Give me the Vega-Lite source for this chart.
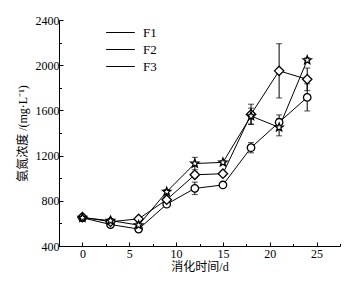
{
  "$schema": "https://vega.github.io/schema/vega-lite/v6.json",
  "width": 281,
  "height": 226,
  "autosize": {"type": "none"},
  "padding": {"left": 59, "top": 20, "right": 21, "bottom": 41},
  "background": "white",
  "config": {
    "view": {"stroke": null},
    "font": "Liberation Serif",
    "axis": {"grid": false, "domainColor": "black", "tickColor": "black", "labelColor": "black", "titleColor": "black", "domainWidth": 1, "tickWidth": 1}
  },
  "data": {
    "values": [
      {"day": 0, "series": "F1", "v": 650, "err": 15},
      {"day": 3, "series": "F1", "v": 590, "err": 20},
      {"day": 6, "series": "F1", "v": 550, "err": 20},
      {"day": 9, "series": "F1", "v": 770, "err": 20},
      {"day": 12, "series": "F1", "v": 910, "err": 55},
      {"day": 15, "series": "F1", "v": 940, "err": 15},
      {"day": 18, "series": "F1", "v": 1270, "err": 45},
      {"day": 21, "series": "F1", "v": 1495, "err": 65},
      {"day": 24, "series": "F1", "v": 1715, "err": 120},
      {"day": 0, "series": "F2", "v": 655, "err": 15},
      {"day": 3, "series": "F2", "v": 615, "err": 15},
      {"day": 6, "series": "F2", "v": 640, "err": 15},
      {"day": 9, "series": "F2", "v": 810, "err": 20},
      {"day": 12, "series": "F2", "v": 1030, "err": 25},
      {"day": 15, "series": "F2", "v": 1040, "err": 20},
      {"day": 18, "series": "F2", "v": 1565, "err": 90},
      {"day": 21, "series": "F2", "v": 1950, "err": 240},
      {"day": 24, "series": "F2", "v": 1875, "err": 100},
      {"day": 0, "series": "F3", "v": 650, "err": 15},
      {"day": 3, "series": "F3", "v": 625, "err": 15},
      {"day": 6, "series": "F3", "v": 585, "err": 20},
      {"day": 9, "series": "F3", "v": 880, "err": 20},
      {"day": 12, "series": "F3", "v": 1130, "err": 55},
      {"day": 15, "series": "F3", "v": 1140, "err": 15},
      {"day": 18, "series": "F3", "v": 1550, "err": 70},
      {"day": 21, "series": "F3", "v": 1450, "err": 75},
      {"day": 24, "series": "F3", "v": 2045, "err": 20}
    ]
  },
  "layer": [
    {
      "mark": {"type": "errorbar", "color": "black", "ticks": {"size": 6, "thickness": 1}, "rule": {"strokeWidth": 1}},
      "encoding": {
        "x": {"field": "day", "type": "quantitative", "scale": {"domain": [-2.5, 27.5], "nice": false, "zero": false}, "axis": null},
        "y": {"field": "v", "type": "quantitative", "scale": {"domain": [400, 2400], "nice": false, "zero": false}, "axis": null},
        "yError": {"field": "err"},
        "detail": {"field": "series"}
      }
    },
    {
      "mark": {"type": "line", "strokeWidth": 1},
      "encoding": {
        "x": {"field": "day", "type": "quantitative", "axis": {"orient": "bottom", "values": [0, 5, 10, 15, 20, 25], "tickSize": -4, "labelPadding": 6, "labelFontSize": 12, "labelFont": "Liberation Serif", "title": "消化时间/d", "titleFont": "Liberation Serif, Noto Sans CJK SC", "titleFontSize": 12, "titleFontWeight": "normal", "titlePadding": 2}},
        "y": {"field": "v", "type": "quantitative", "axis": {"orient": "left", "values": [400, 800, 1200, 1600, 2000, 2400], "format": "d", "tickSize": -4, "labelPadding": 4, "labelFontSize": 12, "labelFont": "Liberation Serif", "title": "氨氮浓度 /(mg·L⁻¹)", "titleFont": "Liberation Serif, Noto Sans CJK SC", "titleFontSize": 12, "titleFontWeight": "normal", "titlePadding": 6}},
        "color": {
          "field": "series",
          "type": "nominal",
          "scale": {"domain": ["F1", "F2", "F3"], "range": ["black", "black", "black"]},
          "legend": {
            "orient": "none",
            "legendX": 55,
            "legendY": 6,
            "title": null,
            "symbolType": "M-3.7,0H3.7",
            "symbolSize": 60,
            "symbolStrokeWidth": 1,
            "symbolStrokeColor": "black",
            "labelFont": "Liberation Serif",
            "labelFontSize": 13,
            "labelColor": "black",
            "labelOffset": 16,
            "rowPadding": 3
          }
        }
      }
    },
    {
      "mark": {"type": "point", "fill": "white", "fillOpacity": 1, "stroke": "black", "strokeWidth": 1.3, "size": 56, "opacity": 1},
      "encoding": {
        "x": {"field": "day", "type": "quantitative", "axis": {"orient": "bottom", "values": [-2.5, 2.5, 7.5, 12.5, 17.5, 22.5, 27.5], "tickSize": -2.5, "labels": false, "domain": false, "title": null}},
        "y": {"field": "v", "type": "quantitative", "axis": {"orient": "left", "values": [600, 1000, 1400, 1800, 2200], "tickSize": -2.5, "labels": false, "domain": false, "title": null}},
        "shape": {
          "field": "series",
          "type": "nominal",
          "scale": {"range": ["M1,0A1,1 0 1,1 -1,0A1,1 0 1,1 1,0Z", "M-1.25,0L0,-1.25L1.25,0L0,1.25Z", "M0,-1.15L0.286,-0.394L1.094,-0.355L0.463,0.15L0.676,0.93L0,0.49L-0.676,0.93L-0.463,0.15L-1.094,-0.355L-0.286,-0.394Z"]},
          "legend": null
        }
      }
    }
  ],
  "resolve": {"axis": {"x": "independent", "y": "independent"}}
}
